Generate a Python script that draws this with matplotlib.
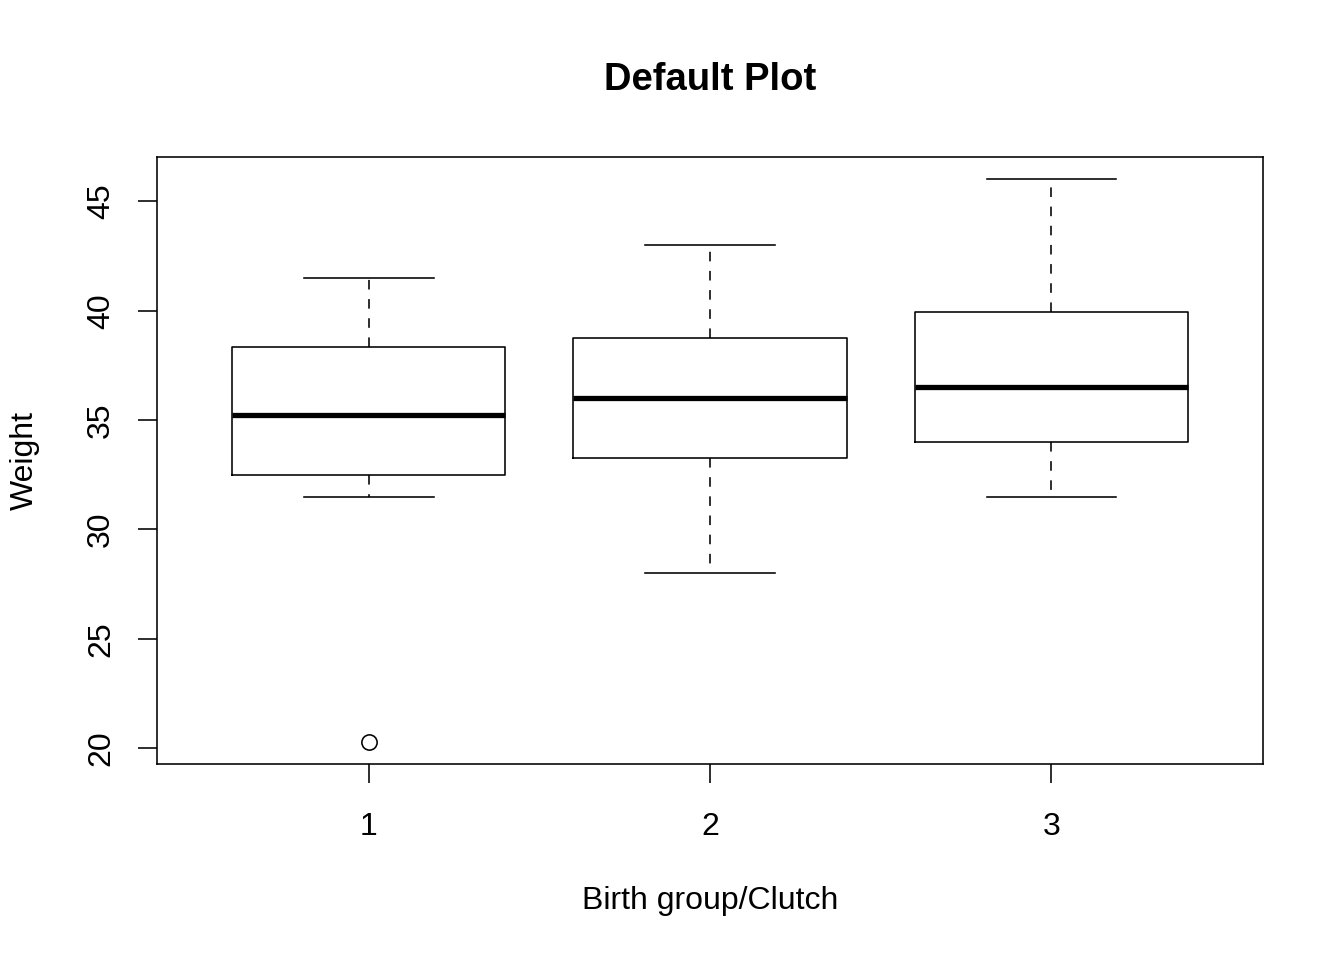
import matplotlib
matplotlib.use("Agg")
import matplotlib.pyplot as plt

# Box statistics (R-style boxplot)
groups = ["1", "2", "3"]
whisker_low = [31.5, 28.0, 31.5]
q1 = [32.5, 33.25, 34.0]
median = [35.25, 36.0, 36.5]
q3 = [38.35, 38.75, 39.95]
whisker_high = [41.5, 43.0, 46.0]
outliers = [[20.3], [], []]

y_ticks = [20, 25, 30, 35, 40, 45]

plt.rcParams['font.family'] = ['Liberation Sans', 'DejaVu Sans']

stats = []
for i, g in enumerate(groups):
    stats.append(dict(label=g, whislo=whisker_low[i], q1=q1[i], med=median[i],
                      q3=q3[i], whishi=whisker_high[i], fliers=outliers[i]))

fig = plt.figure(figsize=(13.44, 9.6), dpi=100)
ax = fig.add_axes([157 / 1344, 1 - 764 / 960, (1263 - 157) / 1344, (764 - 157) / 960])

lw = 1.15
ax.bxp(stats, positions=[1, 2, 3], widths=0.8, showfliers=True,
       boxprops=dict(color="black", linewidth=lw),
       medianprops=dict(color="black", linewidth=3.8, solid_capstyle="butt"),
       whiskerprops=dict(color="black", linewidth=lw, linestyle=(0, (6, 6))),
       capprops=dict(color="black", linewidth=lw),
       capwidths=0.38,
       flierprops=dict(marker="o", markerfacecolor="none", markeredgecolor="black",
                       markersize=11, markeredgewidth=lw))

ax.set_xlim(0.38, 3.62)
lo = 20.3 - 0.04 * (46 - 20.3)
hi = 46 + 0.04 * (46 - 20.3)
ax.set_ylim(lo, hi)

fs = 23
ax.set_xticks([1, 2, 3])
ax.set_xticklabels(groups)
ax.set_yticks(y_ticks)
ax.set_yticklabels([str(t) for t in y_ticks], rotation=90, va="center")

for s in ax.spines.values():
    s.set_linewidth(lw)
ax.tick_params(axis="both", direction="out", length=13.5, width=lw, labelsize=fs)
ax.tick_params(axis="x", pad=21)
ax.tick_params(axis="y", pad=16)

ax.set_xlabel("Birth group/Clutch", fontsize=fs)
ax.xaxis.set_label_coords(0.5, (764 - 901) / 607)
ax.xaxis.label.set_va("center")
ax.set_ylabel("Weight", fontsize=fs)
ax.yaxis.set_label_coords((25 - 157) / 1106, 0.5)
ax.yaxis.label.set_va("center")

fig.text(710 / 1344, 1 - 80 / 960, "Default Plot", ha="center", va="center",
         fontsize=27.5, fontweight="bold")

fig.savefig("out.png", dpi=100)
